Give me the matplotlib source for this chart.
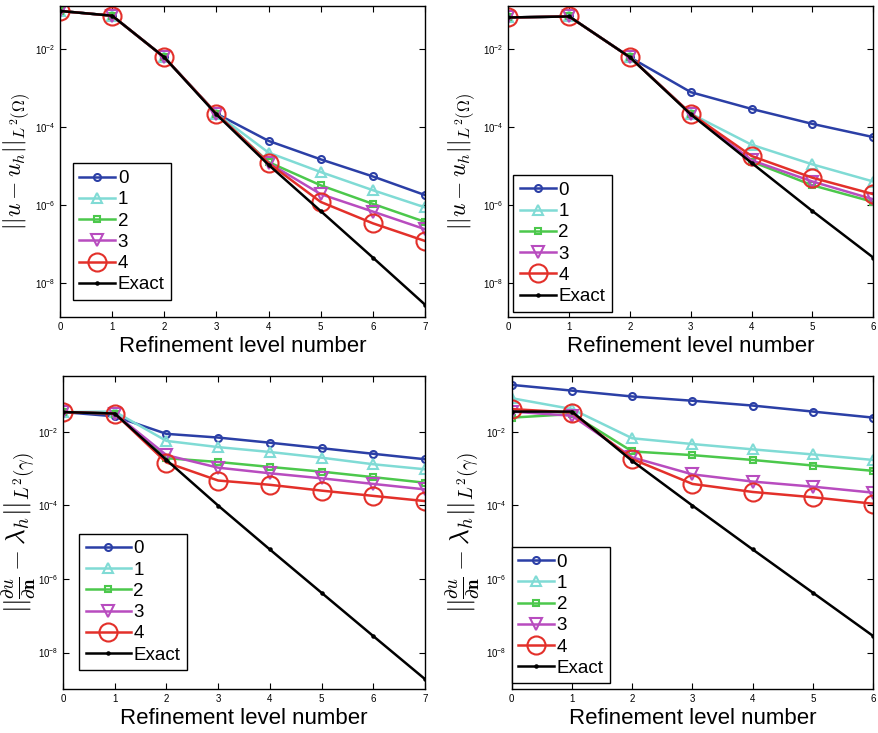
import numpy as np
import matplotlib
matplotlib.use("Agg")
from matplotlib import pyplot as plt
from matplotlib.ticker import LogLocator, NullLocator

plt.rcParams['font.family'] = ['Liberation Sans', 'DejaVu Sans']
plt.rcParams['mathtext.fontset'] = 'cm'

labels = ['0', '1', '2', '3', '4', 'Exact']
colors = ['#2b3fa6', '#80dbd5', '#4cc84c', '#b84cbf', '#e3302a', 'black']
markers = ['o', '^', 's', 'v', 'o', '.']
msizes = [5, 6.5, 4.5, 8.5, 13, 3.5]

# top left: L2 error in domain, levels 0..7
tl_s0 = [0.094, 0.071, 0.0061, 2.2e-4, 4.4e-5, 1.48e-5, 5.4e-6, 1.8e-6]
tl_s1 = [0.094, 0.071, 0.0061, 2.2e-4, 2.2e-5, 7.0e-6, 2.4e-6, 8.7e-7]
tl_s2 = [0.094, 0.071, 0.0061, 2.2e-4, 1.26e-5, 3.2e-6, 1.07e-6, 3.7e-7]
tl_s3 = [0.094, 0.071, 0.0061, 2.2e-4, 1.2e-5, 1.9e-6, 6.8e-7, 2.4e-7]
tl_s4 = [0.094, 0.071, 0.0061, 2.2e-4, 1.18e-5, 1.2e-6, 3.4e-7, 1.2e-7]
tl_ex = [0.094, 0.071, 0.0061, 2.1e-4, 1.07e-5, 7.0e-7, 4.5e-8, 2.8e-9]

# top right: levels 0..6
tr_s0 = [0.064, 0.068, 0.0061, 7.8e-4, 2.9e-4, 1.2e-4, 5.5e-5]
tr_s1 = [0.064, 0.068, 0.0061, 2.2e-4, 3.5e-5, 1.1e-5, 4.0e-6]
tr_s2 = [0.064, 0.068, 0.0061, 2.2e-4, 1.3e-5, 3.2e-6, 1.2e-6]
tr_s3 = [0.064, 0.068, 0.0061, 2.2e-4, 1.4e-5, 4.0e-6, 1.4e-6]
tr_s4 = [0.064, 0.068, 0.0061, 2.2e-4, 1.8e-5, 5.0e-6, 1.9e-6]
tr_ex = [0.064, 0.068, 0.0061, 2.1e-4, 1.2e-5, 7.0e-7, 4.5e-8]

# bottom left: flux error, levels 0..7
bl_s0 = [0.034, 0.026, 8.7e-3, 6.9e-3, 5.0e-3, 3.55e-3, 2.5e-3, 1.78e-3]
bl_s1 = [0.034, 0.035, 5.6e-3, 3.8e-3, 2.8e-3, 1.96e-3, 1.3e-3, 9.5e-4]
bl_s2 = [0.034, 0.031, 1.9e-3, 1.5e-3, 1.1e-3, 8.2e-4, 5.8e-4, 4.1e-4]
bl_s3 = [0.034, 0.031, 2.3e-3, 1.05e-3, 7.4e-4, 5.4e-4, 3.8e-4, 2.7e-4]
bl_s4 = [0.034, 0.031, 1.45e-3, 4.7e-4, 3.6e-4, 2.5e-4, 1.8e-4, 1.3e-4]
bl_ex = [0.034, 0.031, 1.7e-3, 9.8e-5, 6.3e-6, 4.2e-7, 2.8e-8, 1.9e-9]

# bottom right: levels 0..6
br_s0 = [0.186, 0.13, 0.09, 0.069, 0.051, 0.035, 0.024]
br_s1 = [0.081, 0.041, 6.6e-3, 4.6e-3, 3.3e-3, 2.4e-3, 1.7e-3]
br_s2 = [0.024, 0.030, 2.9e-3, 2.3e-3, 1.7e-3, 1.2e-3, 8.6e-4]
br_s3 = [0.035, 0.027, 2.0e-3, 6.9e-4, 4.4e-4, 3.2e-4, 2.2e-4]
br_s4 = [0.041, 0.033, 1.8e-3, 3.8e-4, 2.3e-4, 1.65e-4, 1.1e-4]
br_ex = [0.035, 0.035, 1.6e-3, 9.8e-5, 6.3e-6, 4.2e-7, 2.8e-8]

ylab_top = r'$||u-u_h||_{L^2(\Omega)}$'
ylab_bot = r'$||\frac{\partial u}{\partial \mathbf{n}}-\lambda_h||_{L^2(\gamma)}$'

# rect, data, ylabel, label size, label x (right edge), ylim, legend anchor, handle length
panels = [
    ([0.0683, 0.5675, 0.4152, 0.4243], [tl_s0, tl_s1, tl_s2, tl_s3, tl_s4, tl_ex],
     ylab_top, 17, -0.077, (10**-8.87, 10**-0.9), (0.035, 0.055), 1.9),
    ([0.5783, 0.5675, 0.4152, 0.4243], [tr_s0, tr_s1, tr_s2, tr_s3, tr_s4, tr_ex],
     ylab_top, 17, -0.085, (10**-8.87, 10**-0.9), (0.014, 0.017), 1.9),
    ([0.0717, 0.0600, 0.4118, 0.4270], [bl_s0, bl_s1, bl_s2, bl_s3, bl_s4, bl_ex],
     ylab_bot, 19.5, -0.069, (10**-8.99, 10**-0.49), (0.044, 0.06), 2.4),
    ([0.5821, 0.0600, 0.4114, 0.4270], [br_s0, br_s1, br_s2, br_s3, br_s4, br_ex],
     ylab_bot, 19.5, -0.082, (10**-8.99, 10**-0.49), (0.0, 0.018), 1.9),
]

fig = plt.figure(figsize=(8.79, 7.33), dpi=100)

for rect, series, ylab, ysize, ylx, ylim, anchor, hlen in panels:
    ax = fig.add_axes(rect)
    n = len(series[0])
    x = np.arange(n)
    for s, lab, c, m, ms in zip(series, labels, colors, markers, msizes):
        ax.semilogy(x, s, color=c, marker=m, markersize=ms, markerfacecolor='none',
                    markeredgecolor=c, markeredgewidth=1.5, linewidth=1.8, label=lab)
    ax.set_xlim(0, n - 1)
    ax.set_ylim(*ylim)
    ax.set_xticks(x)
    ax.yaxis.set_major_locator(LogLocator(base=100.0))
    ax.yaxis.set_minor_locator(NullLocator())
    ax.tick_params(direction='in', top=True, right=True, labelsize=7, length=4, width=0.8)
    for sp in ax.spines.values():
        sp.set_linewidth(1.0)
    ax.set_xlabel('Refinement level number', fontsize=16, labelpad=3)
    ax.set_ylabel(ylab, fontsize=ysize)
    ax.yaxis.set_label_coords(ylx, 0.5)
    leg = ax.legend(loc='lower left', bbox_to_anchor=anchor, fontsize=13.5,
                    fancybox=False, framealpha=1, edgecolor='black',
                    handlelength=hlen, handletextpad=0.15, borderpad=0.35,
                    labelspacing=0.22, borderaxespad=0)
    leg.get_frame().set_linewidth(1.0)

fig.savefig('out.png', dpi=100)
